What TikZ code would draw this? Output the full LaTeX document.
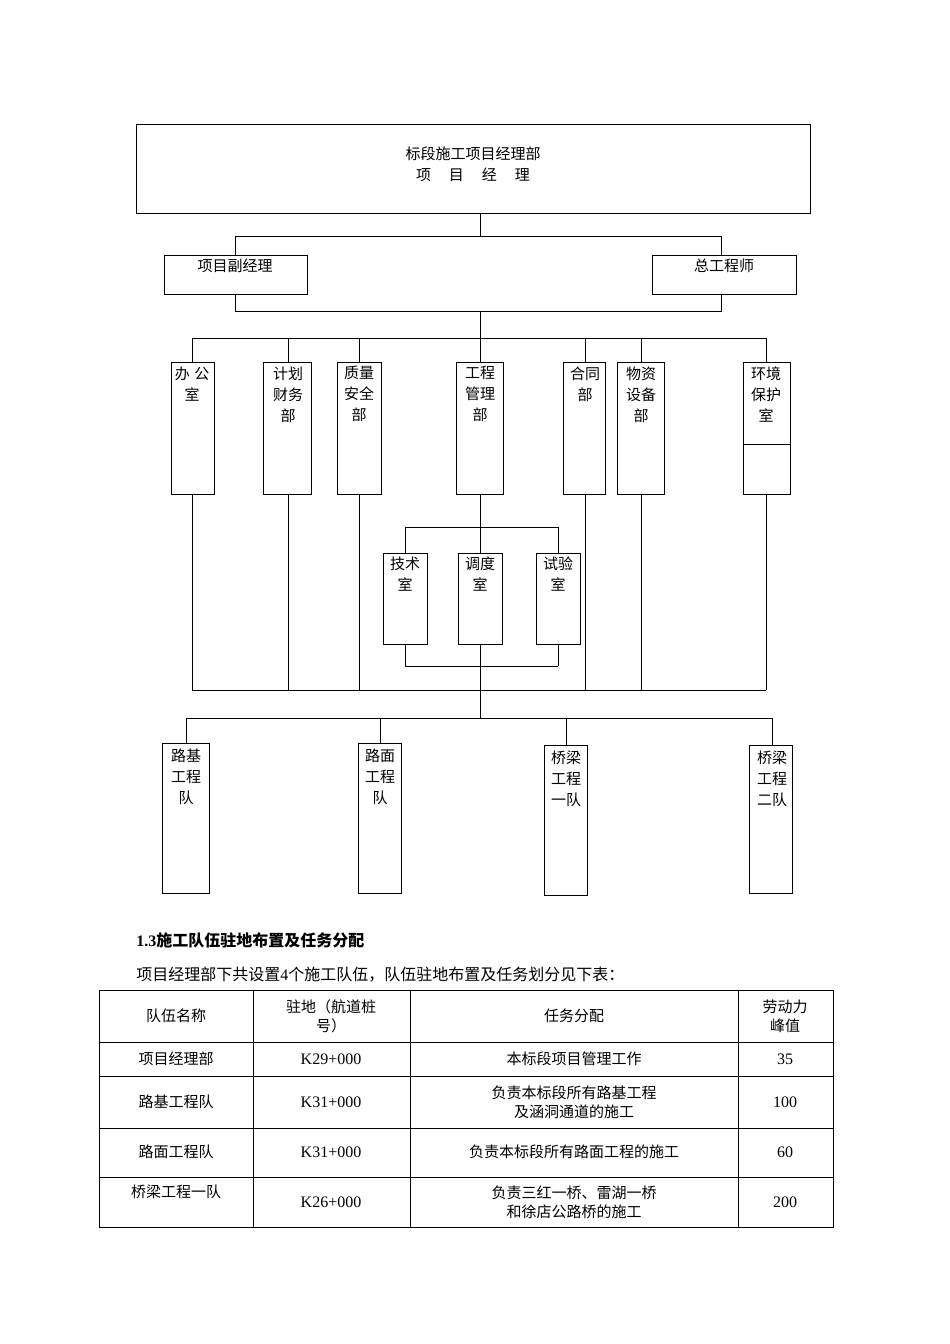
\documentclass[tikz,border=0pt]{standalone}
\usepackage{fontspec}
\setmainfont{Liberation Serif}
\newfontfamily\cjk{Noto Sans CJK SC}
\newcommand\bx[5]{\node[box,minimum width={(#4-#2)*1pt},minimum height={(#5-#3)*1pt}] (#1) at ({(#2+#4)/2},{(#3+#5)/2}) {};}
\begin{document}
\begin{tikzpicture}[x=1pt,y=-1pt,line width=0.9pt,
 box/.style={draw,inner sep=0pt,outer sep=0pt},
 txt/.style={font=\cjk\fontsize{15}{21}\selectfont,align=center,inner sep=0pt,anchor=north},
 cell/.style={font=\cjk\fontsize{15}{19}\selectfont,align=center,inner sep=0pt},
 num/.style={font=\fontsize{16}{19}\selectfont,inner sep=0pt}]
\useasboundingbox (0,0) rectangle (950,1344);
% top
\bx{top}{136}{124}{810}{213}
\node[txt] (t1) at (473,146) {标段施工项目经理部};
\node[txt] (t2) at (473,167) {项\hspace{1.2em}目\hspace{1.2em}经\hspace{1.2em}理};
\bx{fu}{164}{255}{307}{294}
\node[txt] (fut) at (235,258) {项目副经理};
\bx{zg}{652}{255}{796}{294}
\node[txt] (zgt) at (724,258) {总工程师};
\coordinate (c236) at (480,236);
\draw (top.south -| c236) -- (c236);
\draw (235,236) -- (721,236);
\draw (235,236) -- (235,255) (721,236) -- (721,255);
\draw (235,294) -- (235,311) -- (721,311) -- (721,294);
\draw (480,311) -- (480,338);
\draw (192,338) -- (766,338);
% departments
\bx{bg}{171}{362}{214}{494}
\bx{jh}{263}{362}{311}{494}
\bx{zl}{337}{362}{381}{494}
\bx{gc}{456}{362}{503}{494}
\bx{ht}{563}{362}{605}{494}
\bx{wz}{617}{362}{664}{494}
\bx{hj}{743}{362}{790}{494}
\draw (743,444) -- (790,444);
\node[txt] at (192,366) {办\hspace{0.3em}公\\室};
\node[txt] at (288,366) {计划\\财务\\部};
\node[txt] at (359,366) {质量\\安全\\部};
\node[txt] at (480,366) {工程\\管理\\部};
\node[txt] at (585,366) {合同\\部};
\node[txt] at (641,366) {物资\\设备\\部};
\node[txt] at (766,366) {环境\\保护\\室};
\foreach \n/\x in {bg/192,jh/288,zl/359,gc/480,ht/585,wz/641,hj/766}{
  \draw (\x,338) -- (\x,362);}
\foreach \n/\x in {bg/192,jh/288,zl/359,ht/585,wz/641,hj/766}{
  \draw (\x,494) -- (\x,690);}
\draw (192,690) -- (766,690);
% sub offices
\draw (480,494) -- (480,527);
\draw (405,527) -- (558,527);
\bx{js}{383}{553}{427}{644}
\bx{dd}{458}{553}{502}{644}
\bx{sy}{536}{553}{580}{644}
\node[txt] at (405,556) {技术\\室};
\node[txt] at (480,556) {调度\\室};
\node[txt] at (558,556) {试验\\室};
\foreach \x in {405,480,558}{\draw (\x,527) -- (\x,553); \draw (\x,644) -- (\x,666);}
\draw (405,666) -- (558,666);
\draw (480,666) -- (480,718);
\draw (186,718) -- (772,718);
% teams
\bx{lj}{162}{743}{209}{893}
\bx{lm}{358}{743}{401}{893}
\bx{q1}{544}{745}{587}{895}
\bx{q2}{749}{745}{792}{893}
\draw (186,718) -- (186,743) (380,718) -- (380,743) (566,718) -- (566,745) (772,718) -- (772,745);
\node[txt] at (186,748) {路基\\工程\\队};
\node[txt] at (380,748) {路面\\工程\\队};
\node[txt] at (566,750) {桥梁\\工程\\一队};
\node[txt] at (772,750) {桥梁\\工程\\二队};
% heading
\node[anchor=west,inner sep=0pt] (h) at (136,940) {\fontsize{16}{19}\selectfont\bfseries 1.3\cjk\bfseries 施工队伍驻地布置及任务分配};
\node[anchor=west,inner sep=0pt] (p) at (136,975) {\cjk\fontsize{16}{19}\selectfont 项目经理部下共设置{\rmfamily 4}个施工队伍，队伍驻地布置及任务划分见下表：};
% table
\draw (99,990) rectangle (833,1227);
\foreach \y in {1042,1076,1128,1177}{\draw (99,\y) -- (833,\y);}
\foreach \x in {253,410,738}{\draw (\x,990) -- (\x,1227);}
\node[cell] at (176,1016) {队伍名称};
\node[cell] at (331,1016) {驻地（航道桩\\号）};
\node[cell] at (574,1016) {任务分配};
\node[cell] at (785,1016) {劳动力\\峰值};
\node[cell] at (176,1059) {项目经理部};
\node[num] at (331,1059) {K29+000};
\node[cell] at (574,1059) {本标段项目管理工作};
\node[num] at (785,1059) {35};
\node[cell] at (176,1102) {路基工程队};
\node[num] at (331,1102) {K31+000};
\node[cell] at (574,1102) {负责本标段所有路基工程\\及涵洞通道的施工};
\node[num] at (785,1102) {100};
\node[cell] at (176,1152) {路面工程队};
\node[num] at (331,1152) {K31+000};
\node[cell] at (574,1152) {负责本标段所有路面工程的施工};
\node[num] at (785,1152) {60};
\node[cell] at (176,1192) {桥梁工程一队};
\node[num] at (331,1202) {K26+000};
\node[cell] at (574,1202) {负责三红一桥、雷湖一桥\\和徐店公路桥的施工};
\node[num] at (785,1202) {200};
\end{tikzpicture}
\end{document}
